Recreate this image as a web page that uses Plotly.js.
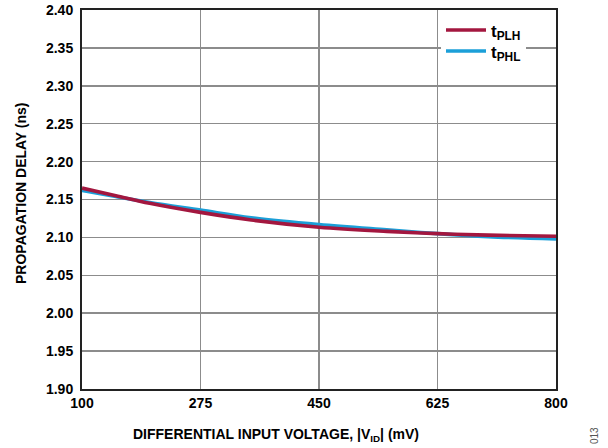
<!DOCTYPE html>
<html>
<head>
<meta charset="utf-8">
<script src="https://cdn.plot.ly/plotly-3.0.1.min.js"></script>
<style>body{margin:0;padding:0;background:#fff;} #chart{width:608px;height:448px;}</style>
</head>
<body>
<div id="chart"></div>
<script>
const vid = [100, 150, 200, 275, 350, 450, 550, 625, 700, 800];
const tPLH = [2.165, 2.155, 2.145, 2.133, 2.123, 2.1135, 2.108, 2.105, 2.103, 2.1015];
const tPHL = [2.162, 2.154, 2.146, 2.136, 2.126, 2.117, 2.110, 2.105, 2.101, 2.098];
const xTicks = [100, 275, 450, 625, 800];

const fam = '"Liberation Sans", Arial, sans-serif';

const data = [
  {x: vid, y: tPHL, name: 't<sub>PHL</sub>', mode: 'lines', legend: 'legend2',
   line: {color: '#1b9fd8', width: 3.6, shape: 'spline'}},
  {x: vid, y: tPLH, name: 't<sub>PLH</sub>', mode: 'lines', legend: 'legend',
   line: {color: '#a3173f', width: 3.6, shape: 'spline'}}
];

const px2x = p => (p - 82) / 474;
const px2y = p => 1 - (p - 10) / 379;

const legFont = {family: fam, size: 17, color: '#000', weight: 'bold'};

const layout = {
  width: 608, height: 448,
  margin: {l: 82, r: 52, t: 10, b: 59},
  paper_bgcolor: '#fff', plot_bgcolor: '#fff',
  showlegend: true,
  legend: {
    x: px2x(441), y: px2y(30.5), xanchor: 'left', yanchor: 'middle',
    bgcolor: '#fff', borderwidth: 0, itemwidth: 40, font: legFont
  },
  legend2: {
    x: px2x(441), y: px2y(51.5), xanchor: 'left', yanchor: 'middle',
    bgcolor: 'rgba(255,255,255,0)', borderwidth: 0, itemwidth: 40, font: legFont
  },
  xaxis: {
    range: [100, 800], tickvals: xTicks, ticktext: xTicks.map(String),
    showgrid: true, gridcolor: '#8c8c8c', gridwidth: 1.5,
    showline: true, mirror: true, linecolor: '#222', linewidth: 2,
    ticks: '', zeroline: false,
    tickfont: {family: fam, size: 14, color: '#000', weight: 'bold'}
  },
  yaxis: {
    range: [1.90, 2.40], dtick: 0.05, tick0: 1.90, tickformat: '.2f',
    showgrid: true, gridcolor: '#8c8c8c', gridwidth: 1.5,
    showline: true, mirror: true, linecolor: '#222', linewidth: 2,
    ticks: '', zeroline: false, ticklabelstandoff: 4,
    tickfont: {family: fam, size: 14, color: '#000', weight: 'bold'}
  },
  shapes: [
    {type: 'rect', xref: 'paper', yref: 'paper', x0: px2x(441), x1: px2x(540), y0: px2y(66), y1: px2y(20),
     fillcolor: '#fff', line: {width: 0}, layer: 'below'}
  ],
  annotations: [
    {text: 'DIFFERENTIAL INPUT VOLTAGE, |V<sub>ID</sub>| (mV)', xref: 'paper', yref: 'paper',
     x: px2x(276), y: px2y(435), xanchor: 'center', yanchor: 'middle', showarrow: false,
     font: {family: fam, size: 14, color: '#000', weight: 'bold'}},
    {text: 'PROPAGATION DELAY (ns)', xref: 'paper', yref: 'paper',
     x: px2x(21), y: px2y(193), xanchor: 'center', yanchor: 'middle', showarrow: false,
     textangle: -90, font: {family: fam, size: 14, color: '#000', weight: 'bold'}},
    {text: '013', xref: 'paper', yref: 'paper', x: px2x(594), y: px2y(436),
     xanchor: 'center', yanchor: 'middle',
     textangle: -90, showarrow: false, font: {family: fam, size: 10, color: '#555'}}
  ]
};

Plotly.newPlot('chart', data, layout, {staticPlot: true, displayModeBar: false});
</script>
</body>
</html>
